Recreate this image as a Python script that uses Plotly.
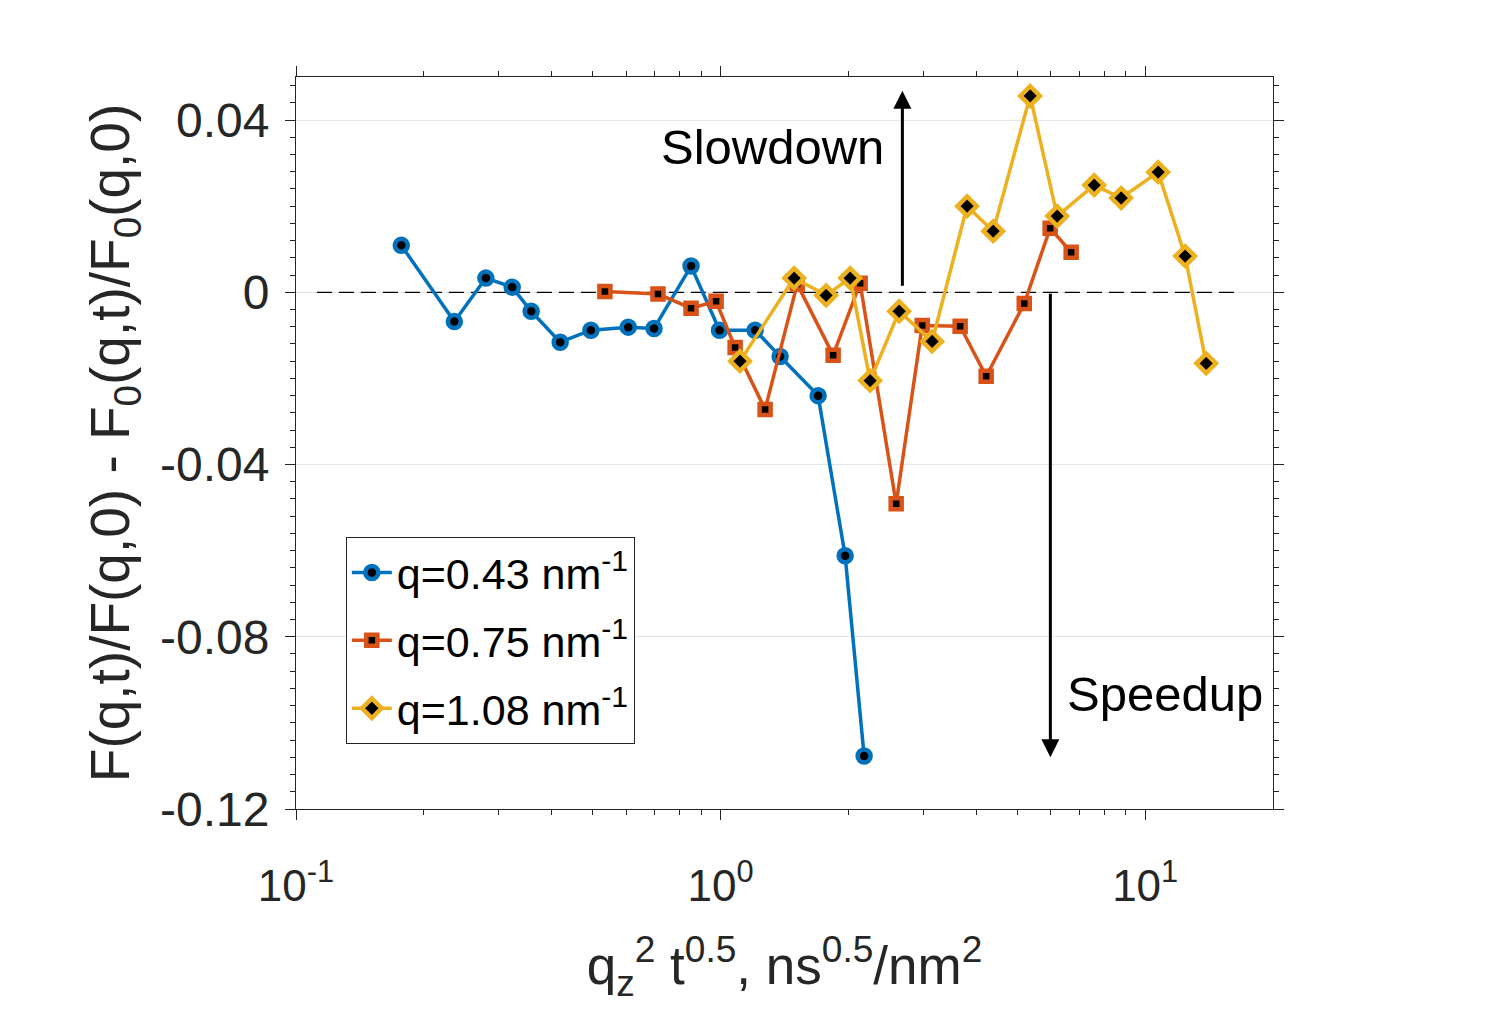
import plotly.graph_objects as go
import numpy as np

# ---- data ----
x_q043 = [0.177, 0.236, 0.280, 0.323, 0.358, 0.419, 0.495, 0.606, 0.697, 0.852, 0.994, 1.206, 1.381, 1.697, 1.965, 2.178]
y_q043 = [0.0109, -0.0068, 0.0033, 0.0012, -0.0044, -0.0116, -0.0088, -0.0081, -0.0084, 0.0061, -0.0088, -0.0088, -0.0149, -0.0240, -0.0612, -0.1077]

x_q075 = [0.534, 0.712, 0.852, 0.976, 1.082, 1.273, 1.515, 1.841, 2.131, 2.591, 2.984, 3.666, 4.222, 5.190, 5.973, 6.694]
y_q075 = [0.0002, -0.0004, -0.0037, -0.0021, -0.0128, -0.0272, 0.0019, -0.0146, 0.0021, -0.0491, -0.0077, -0.0079, -0.0195, -0.0026, 0.0149, 0.0093]

x_q108 = [1.111, 1.490, 1.772, 2.019, 2.250, 2.634, 3.149, 3.807, 4.385, 5.359, 6.205, 7.585, 8.779, 10.73, 12.42, 13.92]
y_q108 = [-0.0160, 0.0033, -0.0007, 0.0033, -0.0205, -0.0044, -0.0114, 0.0200, 0.0142, 0.0456, 0.0177, 0.0249, 0.0219, 0.0279, 0.0084, -0.0165]

series_names = ["q=0.43 nm<sup>-1</sup>", "q=0.75 nm<sup>-1</sup>", "q=1.08 nm<sup>-1</sup>"]
ref_line_x = [0.112, 16.3]
ref_line_y = [0.0, 0.0]

x_tickvals = [0.1, 1, 10]
x_ticktext = ["10<sup>-1</sup>", "10<sup>0</sup>", "10<sup>1</sup>"]
y_tickvals = [0.04, 0.0, -0.04, -0.08, -0.12]
y_ticktext = ["0.04", "0", "-0.04", "-0.08", "-0.12"]

slow_arrow_x = 2.68
slow_arrow_y = [0.0012, 0.0468]
speed_arrow_x = 5.98
speed_arrow_y = [0.0, -0.108]

# ---- style ----
BLUE = "#0072BD"
ORANGE = "#D95319"
YELLOW = "#EDB120"
AX = "#262626"
FONT = "Liberation Sans, Arial, Helvetica, sans-serif"

fig = go.Figure()

fig.add_trace(go.Scatter(x=ref_line_x, y=ref_line_y, mode="lines",
                         line=dict(color="black", width=1.3, dash="15px,7px"),
                         showlegend=False, hoverinfo="skip"))

fig.add_trace(go.Scatter(x=x_q043, y=y_q043, mode="lines+markers", name=series_names[0],
                         legendgroup="a",
                         line=dict(color=BLUE, width=3.5),
                         marker=dict(symbol="circle", size=13, color="black",
                                     line=dict(color=BLUE, width=4.5))))
fig.add_trace(go.Scatter(x=x_q075, y=y_q075, mode="lines+markers", name=series_names[1],
                         legendgroup="b",
                         line=dict(color=ORANGE, width=3.5),
                         marker=dict(symbol="square", size=11, color="black",
                                     line=dict(color=ORANGE, width=4.5))))
fig.add_trace(go.Scatter(x=x_q108, y=y_q108, mode="lines+markers", name=series_names[2],
                         legendgroup="c",
                         line=dict(color=YELLOW, width=3.5),
                         marker=dict(symbol="diamond", size=15, color="black",
                                     line=dict(color=YELLOW, width=4.5))))

minor_x = [v * d for d in (0.1, 1) for v in range(2, 10)]

fig.update_xaxes(
    type="log", range=[-1, np.log10(20)],
    tickmode="array", tickvals=x_tickvals, ticktext=x_ticktext,
    ticks="outside", ticklen=10, tickwidth=1, tickcolor=AX,
    showline=True, linecolor=AX, linewidth=1, mirror="allticks",
    showgrid=False, zeroline=False,
    tickfont=dict(family=FONT, size=44, color=AX),
    ticklabelstandoff=28,
    minor=dict(tickmode="array", tickvals=minor_x, ticks="outside", ticklen=5,
               tickcolor=AX, showgrid=False),
    title=dict(text="q<sub>z</sub><sup>2</sup> t<sup>0.5</sup>, ns<sup>0.5</sup>/nm<sup>2</sup>",
               font=dict(family=FONT, size=53, color=AX), standoff=38),
)
fig.update_yaxes(
    range=[-0.12, 0.05],
    tickmode="array", tickvals=y_tickvals, ticktext=y_ticktext,
    ticks="outside", ticklen=10, tickwidth=1, tickcolor=AX,
    showline=True, linecolor=AX, linewidth=1, mirror="allticks",
    showgrid=True, gridcolor="#e6e6e6", gridwidth=1, zeroline=False,
    tickfont=dict(family=FONT, size=48, color=AX),
    ticklabelstandoff=6,
    minor=dict(dtick=0.004, tick0=0, ticks="outside", ticklen=5,
               tickcolor=AX, showgrid=False),
    title=dict(text="F(q,t)/F(q,0) - F<sub>0</sub>(q,t)/F<sub>0</sub>(q,0)",
               font=dict(family=FONT, size=55, color=AX), standoff=12),
)

fig.add_annotation(x=np.log10(slow_arrow_x), y=slow_arrow_y[1], ax=np.log10(slow_arrow_x), ay=slow_arrow_y[0],
                   xref="x", yref="y", axref="x", ayref="y", text="", showarrow=True,
                   arrowhead=2, arrowsize=1.2, arrowwidth=3, arrowcolor="black")
fig.add_annotation(x=np.log10(speed_arrow_x), y=speed_arrow_y[1], ax=np.log10(speed_arrow_x), ay=speed_arrow_y[0],
                   xref="x", yref="y", axref="x", ayref="y", text="", showarrow=True,
                   arrowhead=2, arrowsize=1.2, arrowwidth=3, arrowcolor="black")
fig.add_annotation(x=0.6039, y=0.905, xref="paper", yref="paper", xanchor="right", yanchor="middle",
                   text="Slowdown", showarrow=False, font=dict(family=FONT, size=49, color="black"))
fig.add_annotation(x=0.787, y=0.157, xref="paper", yref="paper", xanchor="left", yanchor="middle",
                   text="Speedup", showarrow=False, font=dict(family=FONT, size=49, color="black"))

fig.update_layout(
    width=1503, height=1021,
    margin=dict(l=296, r=230, t=77, b=212, autoexpand=False),
    paper_bgcolor="white", plot_bgcolor="white",
    font=dict(family=FONT, color=AX),
    showlegend=True,
    legend=dict(x=0.051, y=0.3716, xanchor="left", yanchor="top",
                bgcolor="white", bordercolor=AX, borderwidth=1,
                font=dict(family=FONT, size=43, color="black"),
                tracegroupgap=9, itemwidth=40,
                entrywidthmode="pixels", entrywidth=255),
)

fig.write_html("out.html")
